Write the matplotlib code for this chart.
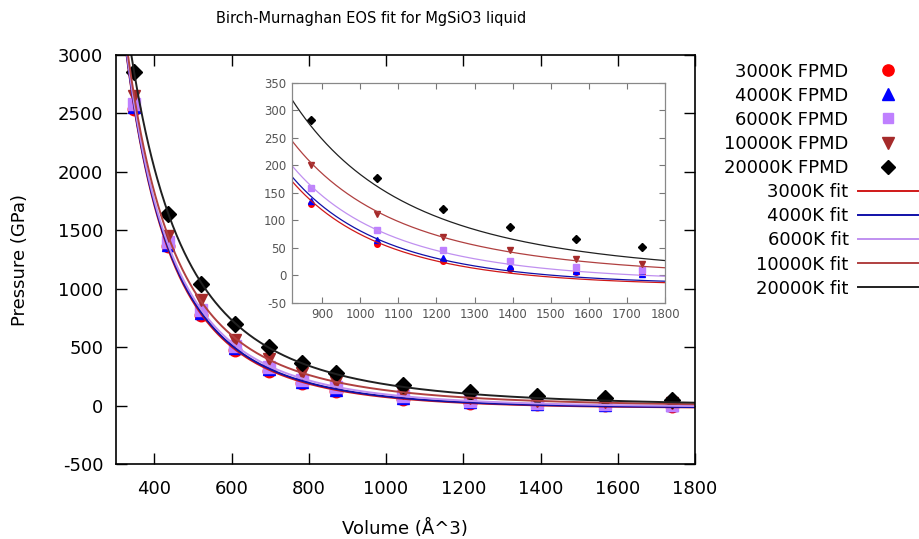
import matplotlib
matplotlib.use("Agg")
import matplotlib.pyplot as plt
import numpy as np

plt.rcParams["axes.unicode_minus"] = False

# volumes (A^3) and FPMD pressures (GPa)
volume = np.array([348, 435, 522, 609, 696, 783, 870, 1044, 1218, 1392, 1566, 1740])

p_3000 = np.array([2540, 1365, 780, 480, 300, 192, 130, 57, 26, 12, 6, 2])
p_4000 = np.array([2555, 1378, 795, 492, 312, 202, 135, 64, 32, 16, 8, 3])
p_6000 = np.array([2580, 1400, 820, 515, 335, 225, 158, 82, 45, 25, 15, 10])
p_10000 = np.array([2645, 1455, 905, 567, 400, 280, 200, 112, 69, 45, 30, 21])
p_20000 = np.array([2855, 1642, 1038, 702, 507, 364, 282, 176, 120, 87, 66, 52])

temps = ["3000K", "4000K", "6000K", "10000K", "20000K"]
pressures = [p_3000, p_4000, p_6000, p_10000, p_20000]
point_colors = ["#ff0000", "#0000ff", "#bf80ff", "#a52a2a", "#000000"]
line_colors = ["#d01818", "#1010a8", "#c090f0", "#b04040", "#202020"]
markers = ["o", "^", "s", "v", "D"]
msizes = [9, 9, 8, 9, 8]


def bm3_fit(v, p):
    """Third-order Birch-Murnaghan fit: grid over V0, linear lstsq for the rest."""
    best = None
    for v0 in np.linspace(800, 3000, 2201):
        x = (v0 / v) ** (2.0 / 3.0)
        f1 = x ** 3.5 - x ** 2.5
        a = np.column_stack([f1, f1 * (x - 1)])
        coef = np.linalg.lstsq(a, p, rcond=None)[0]
        err = np.sum((a @ coef - p) ** 2)
        if best is None or err < best[0]:
            best = (err, v0, coef)
    return best[1], best[2]


def bm3(v, v0, coef):
    x = (v0 / v) ** (2.0 / 3.0)
    f1 = x ** 3.5 - x ** 2.5
    return coef[0] * f1 + coef[1] * f1 * (x - 1)


fits = [bm3_fit(volume, p) for p in pressures]
v_grid = np.linspace(300, 1800, 600)

fig = plt.figure(figsize=(9.19, 5.39), dpi=100)
ax = fig.add_axes([0.1259, 0.1386, 0.6304, 0.7594])

for t, p, c, m, s in zip(temps, pressures, point_colors, markers, msizes):
    ax.plot(volume, p, linestyle="none", marker=m, color=c, markersize=s,
            label=f"{t} FPMD")
for t, (v0, coef), c in zip(temps, fits, line_colors):
    ax.plot(v_grid, bm3(v_grid, v0, coef), color=c, linewidth=1.4,
            label=f"{t} fit")

ax.set_xlim(300, 1800)
ax.set_ylim(-500, 3000)
ax.set_xticks(np.arange(400, 1801, 200))
ax.set_yticks(np.arange(-500, 3001, 500))
ax.tick_params(direction="in", length=8, width=1, top=True, right=True,
               labelsize=13)
ax.tick_params(axis="x", pad=11)
ax.tick_params(axis="y", pad=9)
for sp in ax.spines.values():
    sp.set_linewidth(1.2)

ax.set_xlabel("Volume (Å^3)", fontsize=13)
ax.set_ylabel("Pressure (GPa)", fontsize=13)
ax.xaxis.set_label_coords(0.5, -0.133)
ax.yaxis.set_label_coords(-0.15, 0.5)

fig.text(0.404, 0.965, "Birch-Murnaghan EOS fit for MgSiO3 liquid",
         ha="center", va="center", fontsize=10.5)

ax.legend(loc="upper right", bbox_to_anchor=(0.999, 0.884),
          bbox_transform=fig.transFigure, frameon=False, markerfirst=False,
          fontsize=13, handlelength=3.3, handletextpad=0.55,
          labelspacing=0.34, borderpad=0, borderaxespad=0, markerscale=0.9)

# inset zoom on the low-pressure region
ins = fig.add_axes([0.3174, 0.4384, 0.4062, 0.4082])
for p, c, m in zip(pressures, point_colors, markers):
    ins.plot(volume, p, linestyle="none", marker=m, color=c, markersize=4)
for (v0, coef), c in zip(fits, line_colors):
    ins.plot(v_grid, bm3(v_grid, v0, coef), color=c, linewidth=0.9)
ins.set_xlim(820, 1800)
ins.set_ylim(-50, 350)
ins.set_xticks(np.arange(900, 1801, 100))
ins.set_yticks(np.arange(-50, 351, 50))
ins.tick_params(direction="in", length=4, width=0.8, top=True, right=True,
                labelsize=8.5, colors="#777777", labelcolor="#555555", pad=4)
for sp in ins.spines.values():
    sp.set_color("#888888")
    sp.set_linewidth(0.9)

fig.savefig("out.png", dpi=100)
